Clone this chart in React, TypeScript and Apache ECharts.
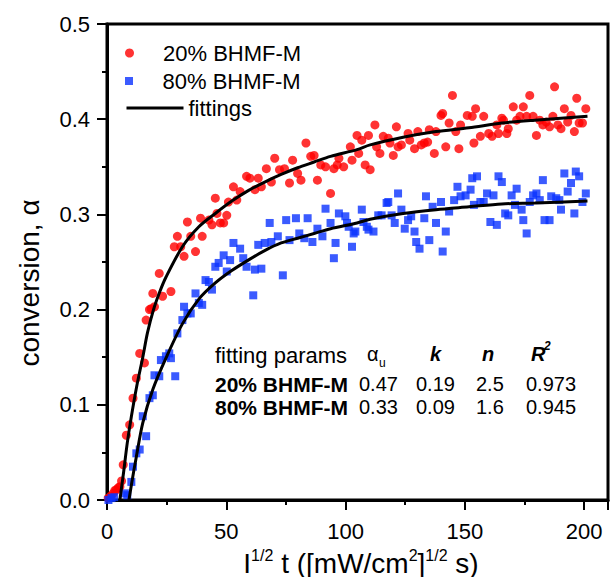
import { useEffect, useRef } from 'react';
import * as echarts from 'echarts';

const FONT = '"Liberation Sans", Arial, Helvetica, sans-serif';

// 20% BHMF-M measured points [I^1/2 t, conversion]
const red20: number[][] = [
  [0.5, 0.002], [1.5, 0.004], [2.6, 0.007], [3.3, 0.010], [4.0, 0.011], [4.8, 0.013], [5.4, 0.014],
  [6.1, 0.020], [6.8, 0.037], [8.1, 0.068], [9.5, 0.079], [10.9, 0.107], [12.3, 0.128], [13.7, 0.154],
  [15.7, 0.144], [16.4, 0.189], [17.8, 0.200], [18.5, 0.201], [19.2, 0.217], [19.9, 0.203], [21.9, 0.238],
  [23.3, 0.214], [26.8, 0.219], [28.2, 0.266], [29.5, 0.277], [30.9, 0.266], [32.3, 0.256], [33.7, 0.292],
  [35.1, 0.277], [37.1, 0.261], [39.2, 0.296], [39.9, 0.277], [42.7, 0.294], [44.0, 0.289], [45.4, 0.317],
  [46.1, 0.301], [47.5, 0.291], [48.9, 0.291], [50.2, 0.299], [50.9, 0.313], [53.0, 0.329], [54.4, 0.315],
  [55.8, 0.324], [58.5, 0.340], [59.9, 0.338], [62.0, 0.326], [63.4, 0.338], [64.7, 0.329], [66.8, 0.348],
  [68.9, 0.334], [70.3, 0.359], [72.3, 0.347], [74.4, 0.348], [76.5, 0.333], [77.8, 0.357], [79.9, 0.343],
  [81.3, 0.336], [83.4, 0.375], [85.4, 0.361], [86.8, 0.362], [88.2, 0.336], [89.6, 0.352], [91.6, 0.350],
  [93.7, 0.322], [95.1, 0.348], [96.5, 0.352], [97.2, 0.359], [99.2, 0.350], [102.0, 0.371], [102.7, 0.357],
  [104.8, 0.383], [105.5, 0.364], [106.8, 0.378], [108.2, 0.352], [109.6, 0.383], [110.3, 0.347],
  [112.3, 0.394], [113.0, 0.371], [114.4, 0.364], [115.8, 0.382], [117.9, 0.380], [118.6, 0.375],
  [120.0, 0.362], [121.3, 0.392], [122.0, 0.371], [123.4, 0.373], [126.2, 0.385], [126.9, 0.378],
  [128.9, 0.369], [130.3, 0.387], [131.7, 0.373], [133.0, 0.375], [134.4, 0.376], [135.1, 0.389],
  [137.2, 0.364], [137.9, 0.387], [140.0, 0.404], [140.7, 0.406], [142.0, 0.371], [143.4, 0.396],
  [144.8, 0.425], [146.2, 0.387], [147.5, 0.369], [148.2, 0.394], [151.0, 0.404], [153.1, 0.403],
  [153.8, 0.375], [154.5, 0.411], [156.5, 0.382], [157.9, 0.403], [160.0, 0.385], [161.4, 0.382],
  [163.4, 0.394], [164.1, 0.385], [165.5, 0.401], [166.2, 0.399], [167.6, 0.385], [168.2, 0.390],
  [170.3, 0.413], [171.7, 0.399], [173.1, 0.403], [174.5, 0.413], [175.9, 0.403], [177.2, 0.425],
  [178.6, 0.403], [180.0, 0.383], [181.4, 0.399], [182.7, 0.394], [184.1, 0.397], [185.5, 0.392],
  [186.9, 0.403], [187.6, 0.434], [189.0, 0.394], [190.3, 0.390], [191.7, 0.411], [193.1, 0.397],
  [194.5, 0.404], [195.9, 0.387], [196.9, 0.422], [197.9, 0.396], [199.3, 0.396], [200.7, 0.411],
];

// 80% BHMF-M measured points
const blue80: number[][] = [
  [0.6, 0.0], [1.9, 0.002], [3.0, 0.003], [7.5, 0.007], [8.5, 0.005], [10.2, 0.019], [10.9, 0.035],
  [12.3, 0.049], [13.7, 0.053], [15.0, 0.088], [16.4, 0.067], [17.8, 0.107], [19.2, 0.110], [19.9, 0.131],
  [21.9, 0.130], [22.6, 0.147], [24.7, 0.151], [26.1, 0.154], [26.8, 0.149], [28.6, 0.130], [29.5, 0.175],
  [31.6, 0.189], [32.3, 0.203], [33.7, 0.196], [35.1, 0.196], [37.1, 0.217], [38.5, 0.207], [39.9, 0.205],
  [41.3, 0.231], [42.7, 0.229], [44.0, 0.221], [45.4, 0.245], [46.8, 0.249], [48.9, 0.257], [50.2, 0.240],
  [51.6, 0.252], [53.0, 0.270], [55.8, 0.264], [57.1, 0.254], [58.5, 0.245], [61.3, 0.215], [62.0, 0.242],
  [63.4, 0.268], [64.7, 0.243], [66.1, 0.270], [68.2, 0.291], [68.9, 0.271], [71.6, 0.277], [73.7, 0.236],
  [75.1, 0.294], [76.5, 0.273], [79.2, 0.296], [80.6, 0.280], [82.7, 0.275], [84.1, 0.296], [86.1, 0.271],
  [88.2, 0.285], [90.3, 0.277], [91.6, 0.306], [93.7, 0.291], [95.1, 0.254], [95.8, 0.270], [97.2, 0.301],
  [99.9, 0.298], [100.6, 0.291], [101.3, 0.287], [102.7, 0.266], [103.4, 0.280], [104.1, 0.282],
  [106.8, 0.305], [107.5, 0.292], [108.9, 0.287], [109.6, 0.284], [111.7, 0.282], [113.7, 0.299],
  [115.1, 0.299], [117.2, 0.312], [117.9, 0.313], [119.3, 0.299], [120.6, 0.291], [122.0, 0.322],
  [123.4, 0.305], [124.8, 0.285], [126.2, 0.294], [127.5, 0.298], [128.9, 0.282], [129.6, 0.271],
  [131.0, 0.264], [133.0, 0.296], [133.7, 0.319], [135.1, 0.273], [136.5, 0.308], [137.9, 0.291],
  [140.0, 0.313], [140.7, 0.261], [142.0, 0.282], [143.4, 0.303], [145.5, 0.315], [146.9, 0.329],
  [148.2, 0.319], [150.3, 0.320], [152.4, 0.326], [153.1, 0.338], [153.8, 0.310], [155.1, 0.340],
  [156.5, 0.313], [157.9, 0.313], [159.3, 0.322], [160.7, 0.292], [162.0, 0.320], [163.4, 0.289],
  [164.1, 0.340], [165.5, 0.334], [166.9, 0.301], [168.2, 0.299], [169.6, 0.320], [171.0, 0.310],
  [171.7, 0.327], [173.8, 0.305], [174.5, 0.294], [175.9, 0.280], [177.2, 0.313], [178.6, 0.320],
  [180.0, 0.322], [181.4, 0.315], [182.7, 0.336], [183.4, 0.294], [185.5, 0.294], [186.2, 0.319],
  [188.3, 0.317], [189.6, 0.315], [190.3, 0.305], [191.7, 0.343], [193.1, 0.324], [194.5, 0.333],
  [195.9, 0.301], [196.5, 0.345], [197.9, 0.340], [199.3, 0.313], [200.7, 0.322],
];

// fitted curves
const fit20: number[][] = [
  [5.4, 0.0], [7.0, 0.03], [8.5, 0.06], [10.2, 0.0875], [12.5, 0.12], [15.0, 0.15], [17.0, 0.176],
  [19.5, 0.2], [22.0, 0.218], [24.7, 0.234], [31.6, 0.266], [38.5, 0.287], [45.4, 0.301], [52.3, 0.314],
  [59.2, 0.325], [66.1, 0.334], [73.0, 0.342], [79.9, 0.349], [86.8, 0.355], [93.7, 0.361], [104.8, 0.368],
  [110.3, 0.373], [124.1, 0.381], [137.9, 0.387], [151.7, 0.391], [165.5, 0.396], [179.3, 0.399], [201.4, 0.403],
];
const fit80: number[][] = [
  [9.2, 0.0], [10.5, 0.02], [12.3, 0.0455], [15.0, 0.081], [19.2, 0.116], [24.7, 0.149], [31.6, 0.185],
  [38.5, 0.211], [45.4, 0.228], [52.3, 0.241], [59.2, 0.252], [66.1, 0.262], [73.0, 0.27], [79.9, 0.275],
  [86.8, 0.28], [93.7, 0.285], [104.8, 0.291], [110.3, 0.295], [124.1, 0.301], [137.9, 0.305],
  [151.7, 0.308], [165.5, 0.311], [179.3, 0.312], [201.4, 0.314],
];

const seriesNames = ['20% BHMF-M', '80% BHMF-M', 'fittings'];
const tableHeader = ['fitting params', 'α', 'k', 'n', 'R'];
const tableRows = [
  ['20% BHMF-M', '0.47', '0.19', '2.5', '0.973'],
  ['80% BHMF-M', '0.33', '0.09', '1.6', '0.945'],
];

export default function App() {
  const ref = useRef<HTMLDivElement>(null);

  useEffect(() => {
    const chart = echarts.init(ref.current!, null, { renderer: 'svg' });
    const axisLine = { show: true, lineStyle: { color: '#000', width: 3 } };
    const legendBase = {
      left: 125,
      padding: 0,
      itemWidth: 57,
      selectedMode: false,
      textStyle: { fontSize: 22, fontFamily: FONT, color: '#000' },
    };
    const colX = [215, 359, 416, 476, 526];
    const rowY = [384, 407];
    const graphics: any[] = [
      {
        type: 'text', x: 29, y: 283, rotation: Math.PI / 2,
        style: { text: 'conversion, α', fontSize: 28, fontFamily: FONT, fill: '#000', align: 'center', verticalAlign: 'middle' },
      },
      {
        type: 'text', x: 361, y: 562,
        style: {
          text: '{m|I}{s|1/2}{m| t ([mW/cm}{s|2}{m|]}{s|1/2}{m| s)}',
          fontFamily: FONT, fill: '#000', align: 'center', verticalAlign: 'middle',
          rich: {
            m: { fontSize: 28, fontFamily: FONT, lineHeight: 30, verticalAlign: 'bottom' },
            s: { fontSize: 16, fontFamily: FONT, lineHeight: 30, verticalAlign: 'top' },
          },
        },
      },
      { type: 'text', x: 215, y: 355, style: { text: tableHeader[0], fontSize: 22, fontFamily: FONT, fill: '#000', verticalAlign: 'middle' } },
      { type: 'text', x: 367, y: 354, style: { text: tableHeader[1], fontSize: 20, fontFamily: FONT, fill: '#000', verticalAlign: 'middle' } },
      { type: 'text', x: 379, y: 363, style: { text: 'u', fontSize: 12, fontFamily: FONT, fill: '#000', verticalAlign: 'middle' } },
      { type: 'text', x: 430, y: 354, style: { text: tableHeader[2], fontSize: 20, fontFamily: FONT, fontWeight: 'bold', fontStyle: 'italic', fill: '#000', verticalAlign: 'middle' } },
      { type: 'text', x: 482, y: 354, style: { text: tableHeader[3], fontSize: 20, fontFamily: FONT, fontWeight: 'bold', fontStyle: 'italic', fill: '#000', verticalAlign: 'middle' } },
      { type: 'text', x: 531, y: 354, style: { text: tableHeader[4], fontSize: 20, fontFamily: FONT, fontWeight: 'bold', fontStyle: 'italic', fill: '#000', verticalAlign: 'middle' } },
      { type: 'text', x: 544, y: 346, style: { text: '2', fontSize: 12, fontFamily: FONT, fontWeight: 'bold', fontStyle: 'italic', fill: '#000', verticalAlign: 'middle' } },
    ];
    tableRows.forEach((row, r) => {
      row.forEach((cell, c) => {
        graphics.push({
          type: 'text', x: colX[c], y: rowY[r],
          style: {
            text: cell, fontSize: c === 0 ? 21 : 20, fontWeight: c === 0 ? 'bold' : 'normal',
            fontFamily: FONT, fill: '#000', verticalAlign: 'middle',
          },
        });
      });
    });

    chart.setOption({
      animation: false,
      backgroundColor: '#fff',
      grid: { left: 107, top: 24, right: -3, bottom: 77, show: true, borderColor: '#000', borderWidth: 3 },
      legend: [
        { ...legendBase, data: [seriesNames[0]], top: 42, itemHeight: 9 },
        { ...legendBase, data: [{ name: seriesNames[1], icon: 'path://M0,0H10V10H0Z' }], top: 70, itemHeight: 8 },
        {
          ...legendBase, data: [seriesNames[2]], top: 97, itemHeight: 14,
          itemStyle: { color: 'rgba(0,0,0,0)', opacity: 0, borderWidth: 0 },
          lineStyle: { width: 3, color: '#000' },
        },
      ],
      xAxis: [
        {
          type: 'value', min: 0, max: 210, interval: 50, position: 'bottom',
          axisLine,
          axisTick: { show: true, length: 10, lineStyle: { width: 2, color: '#000' } },
          axisLabel: {
            fontSize: 22, fontFamily: FONT, color: '#000', margin: 20,
            formatter: (v: number) => (v % 50 === 0 ? String(v) : ''),
          },
          splitLine: { show: false },
        },
        {
          type: 'value', min: 0, max: 210, interval: 25, position: 'bottom',
          axisLine: { show: false },
          axisTick: { show: true, length: 5, lineStyle: { width: 2, color: '#000' } },
          axisLabel: { show: false },
          splitLine: { show: false },
        },
      ],
      yAxis: {
        type: 'value', min: 0, max: 0.5, interval: 0.1,
        axisLine,
        axisTick: { show: true, length: 10, lineStyle: { width: 2, color: '#000' } },
        minorTick: { show: true, splitNumber: 2, length: 5, lineStyle: { width: 2, color: '#000' } },
        axisLabel: {
          fontSize: 22, fontFamily: FONT, color: '#000', margin: 17,
          formatter: (v: number) => v.toFixed(1),
        },
        splitLine: { show: false },
      },
      graphic: graphics,
      series: [
        { name: seriesNames[0], type: 'scatter', data: red20, symbol: 'circle', symbolSize: 9, itemStyle: { color: '#ff0000' } },
        { name: seriesNames[1], type: 'scatter', data: blue80, symbol: 'rect', symbolSize: 8, itemStyle: { color: '#0a32ff' } },
        { name: seriesNames[2], type: 'line', data: fit20, symbol: 'none', smooth: 0.3, lineStyle: { color: '#000', width: 3 }, itemStyle: { color: '#000' } },
        { name: seriesNames[2], type: 'line', data: fit80, symbol: 'none', smooth: 0.3, lineStyle: { color: '#000', width: 3 }, itemStyle: { color: '#000' } },
      ],
    });
    return () => chart.dispose();
  }, []);

  return <div ref={ref} style={{ position: 'absolute', left: 0, top: 0, width: 611, height: 577 }} />;
}
